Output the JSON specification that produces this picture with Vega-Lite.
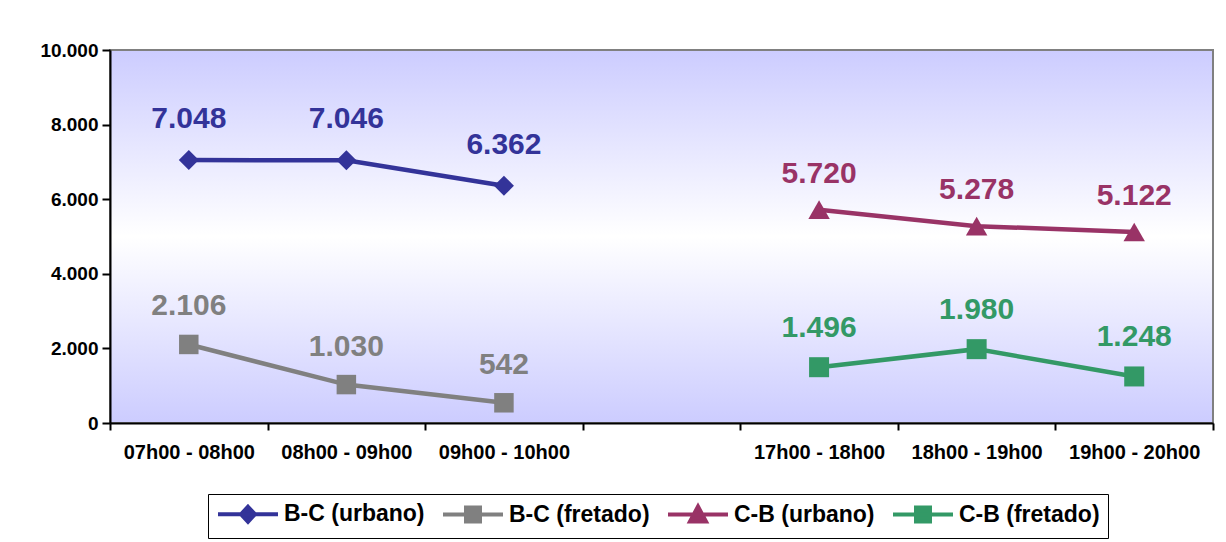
{
  "$schema": "https://vega.github.io/schema/vega-lite/v6.json",
  "width": 1103,
  "height": 373,
  "autosize": {"type": "none"},
  "padding": {"left": 110, "top": 50, "right": 13, "bottom": 119},
  "background": "white",
  "config": {
    "locale": {"number": {"decimal": ",", "thousands": ".", "grouping": [3], "currency": ["R$ ", ""]}},
    "view": {"stroke": null},
    "font": "Liberation Sans",
    "axis": {"zindex": 1, "domainColor": "black", "domainWidth": 2, "tickColor": "black", "tickWidth": 2, "labelColor": "black", "labelFont": "Liberation Sans", "labelFontWeight": "bold", "title": null, "grid": false}
  },
  "data": {
    "values": [
      {"slot": "07h00 - 08h00", "series": "B-C (urbano)", "value": 7048},
      {"slot": "08h00 - 09h00", "series": "B-C (urbano)", "value": 7046},
      {"slot": "09h00 - 10h00", "series": "B-C (urbano)", "value": 6362},
      {"slot": "07h00 - 08h00", "series": "B-C (fretado)", "value": 2106},
      {"slot": "08h00 - 09h00", "series": "B-C (fretado)", "value": 1030},
      {"slot": "09h00 - 10h00", "series": "B-C (fretado)", "value": 542},
      {"slot": "17h00 - 18h00", "series": "C-B (urbano)", "value": 5720},
      {"slot": "18h00 - 19h00", "series": "C-B (urbano)", "value": 5278},
      {"slot": "19h00 - 20h00", "series": "C-B (urbano)", "value": 5122},
      {"slot": "17h00 - 18h00", "series": "C-B (fretado)", "value": 1496},
      {"slot": "18h00 - 19h00", "series": "C-B (fretado)", "value": 1980},
      {"slot": "19h00 - 20h00", "series": "C-B (fretado)", "value": 1248}
    ]
  },
  "layer": [
    {
      "mark": {"type": "rect", "stroke": "#808080", "strokeWidth": 2,
        "fill": {"gradient": "linear", "x1": 0, "y1": 0, "x2": 0, "y2": 1,
          "stops": [{"offset": 0, "color": "#CCCCFF"}, {"offset": 0.5, "color": "#FFFFFF"}, {"offset": 1, "color": "#CCCCFF"}]}},
      "encoding": {
        "y": {"datum": 10000, "type": "quantitative", "scale": {"domain": [0, 10000], "nice": false},
          "axis": {"zindex": 1, "values": [0, 2000, 4000, 6000, 8000, 10000], "format": ",d", "labelFontSize": 19, "tickSize": 8, "labelPadding": 4}},
        "y2": {"datum": 0}
      }
    },
    {
      "transform": [{"filter": "datum.series === 'B-C (urbano)'"}],
      "encoding": {
        "x": {
          "field": "slot", "type": "nominal", "bandPosition": 0.5,
          "scale": {"type": "band", "domain": ["07h00 - 08h00", "08h00 - 09h00", "09h00 - 10h00", " ", "17h00 - 18h00", "18h00 - 19h00", "19h00 - 20h00"], "paddingInner": 0, "paddingOuter": 0},
          "axis": {"zindex": 1, "tickBand": "extent", "labelAngle": 0, "labelFontSize": 20, "tickSize": 7, "labelPadding": 12}
        },
        "y": {"field": "value", "type": "quantitative"}
      },
      "layer": [
        {"mark": {"type": "line", "strokeWidth": 4.5, "color": "#333399"}},
        {"mark": {"type": "point", "shape": "diamond", "filled": true, "size": 400, "opacity": 1, "color": "#333399"}},
        {"mark": {"type": "text", "fontSize": 30, "fontWeight": "bold", "baseline": "middle", "dy": -41, "color": "#333399"},
         "encoding": {"text": {"field": "value", "type": "quantitative", "format": ",d"}}}
      ]
    },
    {
      "transform": [{"filter": "datum.series === 'B-C (fretado)'"}],
      "encoding": {
        "x": {"field": "slot", "type": "nominal", "bandPosition": 0.5},
        "y": {"field": "value", "type": "quantitative"}
      },
      "layer": [
        {"mark": {"type": "line", "strokeWidth": 4.5, "color": "#808080"}},
        {"mark": {"type": "point", "shape": "square", "filled": true, "size": 380, "opacity": 1, "color": "#808080"}},
        {"mark": {"type": "text", "fontSize": 30, "fontWeight": "bold", "baseline": "middle", "dy": -38, "color": "#808080"},
         "encoding": {"text": {"field": "value", "type": "quantitative", "format": ",d"}}}
      ]
    },
    {
      "transform": [{"filter": "datum.series === 'C-B (urbano)'"}],
      "encoding": {
        "x": {"field": "slot", "type": "nominal", "bandPosition": 0.5},
        "y": {"field": "value", "type": "quantitative"}
      },
      "layer": [
        {"mark": {"type": "line", "strokeWidth": 4.5, "color": "#993366"}},
        {"mark": {"type": "point", "shape": "triangle-up", "filled": true, "size": 460, "opacity": 1, "color": "#993366"}},
        {"mark": {"type": "text", "fontSize": 30, "fontWeight": "bold", "baseline": "middle", "dy": -36, "color": "#993366"},
         "encoding": {"text": {"field": "value", "type": "quantitative", "format": ",d"}}}
      ]
    },
    {
      "transform": [{"filter": "datum.series === 'C-B (fretado)'"}],
      "encoding": {
        "x": {"field": "slot", "type": "nominal", "bandPosition": 0.5},
        "y": {"field": "value", "type": "quantitative"}
      },
      "layer": [
        {"mark": {"type": "line", "strokeWidth": 4.5, "color": "#339966"}},
        {"mark": {"type": "point", "shape": "square", "filled": true, "size": 400, "opacity": 1, "color": "#339966"}},
        {"mark": {"type": "text", "fontSize": 30, "fontWeight": "bold", "baseline": "middle", "dy": -39, "color": "#339966"},
         "encoding": {"text": {"field": "value", "type": "quantitative", "format": ",d"}}}
      ]
    },
    {
      "transform": [{"filter": "datum.value < 0"}],
      "mark": {"type": "point", "filled": true, "size": 400, "opacity": 1},
      "encoding": {
        "x": {"field": "slot", "type": "nominal", "bandPosition": 0.5},
        "y": {"field": "value", "type": "quantitative"},
        "color": {"field": "series", "type": "nominal",
          "scale": {"domain": ["B-C (urbano)", "B-C (fretado)", "C-B (urbano)", "C-B (fretado)"], "range": ["#333399", "#808080", "#993366", "#339966"]},
          "legend": {"title": null, "orient": "none", "legendX": 98, "legendY": 444, "direction": "horizontal",
            "strokeColor": "black", "fillColor": "white", "padding": 8, "columnPadding": 10,
            "labelFont": "Liberation Sans", "labelFontSize": 23, "labelFontWeight": "bold", "labelColor": "black",
            "labelOffset": 44, "symbolSize": 400, "symbolStrokeWidth": 4, "symbolOpacity": 1}},
        "stroke": {"field": "series", "type": "nominal",
          "scale": {"domain": ["B-C (urbano)", "B-C (fretado)", "C-B (urbano)", "C-B (fretado)"], "range": ["#333399", "#808080", "#993366", "#339966"]}},
        "shape": {"field": "series", "type": "nominal",
          "scale": {"domain": ["B-C (urbano)", "B-C (fretado)", "C-B (urbano)", "C-B (fretado)"],
            "range": ["M-1,0H5M2,-0.75L2.7,0L2,0.75L1.3,0Z", "M-1,0H5M1.3,-0.7H2.7V0.7H1.3Z", "M-1,0H5M2,-0.8L2.8,0.7H1.2Z", "M-1,0H5M1.3,-0.7H2.7V0.7H1.3Z"]}}
      }
    }
  ]
}
